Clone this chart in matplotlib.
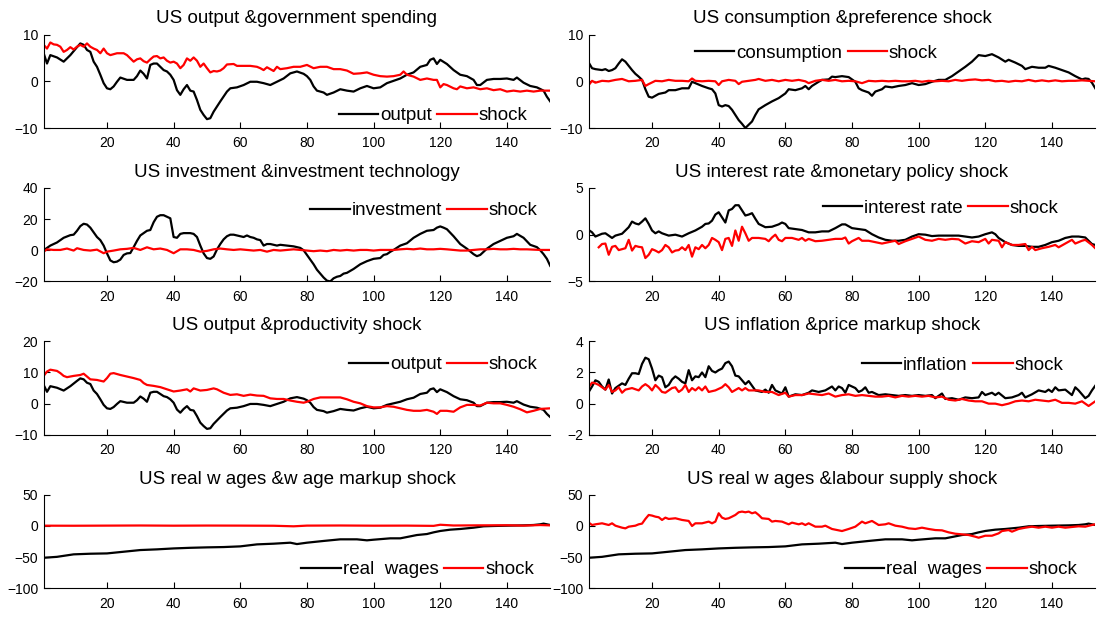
import matplotlib
matplotlib.use("Agg")
import matplotlib.pyplot as plt

plt.rcParams['font.family'] = ['Liberation Sans', 'DejaVu Sans']

# --- data (x = period index) ---
output_x = [1, 2, 3, 5, 7, 9, 11, 12, 13, 14, 15, 16, 17, 18, 19, 20, 21, 22, 23, 24,
            26, 28, 29, 30, 31, 32, 33, 34, 35, 36, 37, 38, 39, 40, 41, 42, 43, 44, 45, 46,
            47, 48, 49, 50, 51, 52, 54, 56, 57, 59, 61, 63, 65, 67, 69, 71, 73, 75, 77, 79,
            80, 81, 82, 83, 85, 86, 88, 90, 92, 94, 96, 98, 100, 102, 104, 106, 108, 110,
            112, 114, 116, 117, 118, 119, 120, 122, 124, 126, 128, 130, 131, 132, 134, 136,
            138, 140, 142, 143, 145, 147, 149, 151, 152, 153]
output_y = [6.0, 3.8, 5.6, 5.1, 4.2, 5.6, 7.3, 8.1, 7.8, 6.7, 6.3, 4.2, 3.1, 1.4, -0.4, -1.5,
            -1.7, -1.1, -0.1, 0.8, 0.3, 0.3, 1.1, 2.3, 1.6, 0.6, 3.5, 3.8, 3.8, 3.1, 2.4, 2.1,
            1.4, 0.3, -1.9, -2.9, -1.7, -0.8, -2.0, -2.2, -4.0, -6.1, -7.2, -8.1, -7.9, -6.5,
            -4.3, -2.2, -1.5, -1.3, -0.8, -0.1, -0.1, -0.4, -0.8, -0.1, 0.6, 1.7, 2.1, 1.6,
            1.1, 0.3, -1.1, -2.0, -2.4, -2.9, -2.4, -1.7, -2.0, -2.2, -1.5, -1.0, -1.5, -1.3,
            -0.4, 0.1, 0.6, 1.4, 1.9, 3.1, 3.5, 4.6, 4.9, 3.7, 4.6, 3.7, 2.4, 1.4, 1.1, 0.3,
            -0.8, -0.8, 0.3, 0.5, 0.5, 0.6, 0.3, 0.8, -0.3, -1.0, -1.3, -2.0, -3.3, -4.3]

gov_x = [1, 2, 3, 4, 5, 6, 7, 8, 9, 10, 11, 12, 13, 14, 15, 16, 17, 18, 19, 20, 21, 23, 25,
         26, 27, 28, 29, 30, 31, 32, 33, 34, 35, 36, 37, 38, 39, 40, 41, 42, 43, 44, 45, 46,
         47, 48, 49, 50, 51, 52, 53, 54, 55, 56, 58, 59, 61, 63, 65, 66, 67, 68, 69, 70, 71,
         72, 74, 76, 78, 80, 82, 84, 86, 88, 90, 92, 94, 96, 98, 100, 102, 104, 106, 108,
         109, 110, 112, 114, 116, 118, 119, 120, 121, 122, 124, 125, 126, 128, 130, 132,
         134, 136, 138, 140, 142, 144, 146, 148, 150, 153]
gov_y = [7.8, 7.0, 8.3, 7.9, 7.8, 7.4, 6.3, 6.7, 7.3, 6.8, 7.4, 7.8, 7.4, 8.1, 7.4, 7.0, 6.7,
         6.0, 7.0, 6.0, 5.6, 6.0, 6.0, 5.6, 4.9, 4.2, 4.7, 4.9, 4.3, 4.0, 4.7, 5.3, 5.4, 4.9,
         5.1, 4.4, 4.0, 4.2, 3.8, 2.8, 3.5, 4.9, 4.4, 5.1, 4.4, 3.1, 3.8, 2.8, 1.9, 2.2, 2.1,
         2.3, 2.8, 3.6, 3.7, 3.3, 3.3, 3.3, 3.1, 2.8, 2.4, 3.0, 2.6, 2.2, 3.1, 2.6, 2.8, 3.1,
         3.1, 3.5, 2.8, 3.1, 3.1, 2.6, 2.6, 2.3, 1.6, 1.7, 1.9, 1.4, 1.1, 1.0, 1.1, 1.4, 2.1,
         1.4, 1.0, 0.3, 0.6, 0.3, 0.3, -1.3, -0.6, -0.8, -1.5, -1.7, -1.1, -1.5, -1.3, -1.7,
         -1.5, -1.9, -1.7, -2.2, -2.0, -2.2, -2.0, -2.2, -2.0, -2.0]

cons_x = [1, 2, 3, 5, 6, 7, 8, 9, 10, 11, 12, 13, 14, 15, 16, 17, 18, 19, 20, 21, 22, 24, 25,
          27, 29, 31, 32, 33, 35, 37, 38, 39, 40, 41, 42, 43, 44, 45, 46, 47, 48, 49, 50, 51,
          52, 54, 56, 58, 60, 61, 63, 65, 66, 67, 68, 70, 71, 73, 74, 75, 77, 79, 80, 81, 82,
          83, 85, 86, 87, 89, 90, 92, 94, 96, 98, 100, 102, 104, 106, 108, 110, 112, 114, 116,
          118, 120, 122, 124, 126, 127, 129, 131, 132, 134, 136, 138, 139, 141, 143, 145, 147,
          149, 150, 151, 152, 153]
cons_y = [4.0, 2.8, 2.6, 2.4, 2.6, 2.2, 2.4, 2.8, 3.8, 4.7, 4.2, 3.3, 2.4, 1.6, 1.0, 0.3, -1.7,
          -3.3, -3.5, -3.1, -2.7, -2.4, -1.9, -1.9, -1.5, -1.5, -0.1, -0.4, -1.0, -1.5, -1.7,
          -2.6, -5.1, -5.4, -5.1, -5.3, -6.1, -7.2, -8.3, -9.1, -10.0, -9.3, -8.6, -7.2, -6.0,
          -5.1, -4.3, -3.6, -2.6, -1.7, -1.9, -1.5, -1.0, -1.7, -1.0, -0.1, 0.3, 0.4, 1.0, 0.9,
          1.1, 0.9, 0.4, -0.1, -1.5, -1.9, -2.4, -3.1, -2.2, -1.7, -1.1, -1.3, -1.0, -0.8, -0.4,
          -0.8, -0.6, -0.1, 0.3, 0.3, 1.1, 2.1, 3.1, 4.2, 5.6, 5.4, 5.8, 5.1, 4.2, 4.6, 4.0, 3.3,
          2.6, 3.1, 2.9, 2.9, 3.3, 2.9, 2.4, 1.9, 1.1, 0.4, 0.6, 0.5, -0.3, -1.5]

pref_x = [1, 2, 3, 5, 7, 9, 11, 13, 15, 17, 18, 19, 21, 23, 25, 27, 29, 31, 32, 33, 35, 37, 39,
          40, 41, 43, 45, 46, 47, 49, 51, 52, 54, 56, 58, 60, 62, 64, 66, 67, 69, 71, 73, 75,
          77, 79, 81, 83, 85, 87, 89, 91, 93, 95, 97, 99, 101, 103, 105, 107, 109, 111, 113,
          115, 117, 119, 121, 123, 125, 127, 129, 131, 133, 135, 137, 139, 141, 143, 145, 147,
          149, 151, 153]
pref_y = [-0.8, 0.1, -0.3, 0.1, 0.0, 0.3, 0.5, 0.0, 0.1, 0.3, -1.0, -0.6, 0.1, 0.0, 0.3, 0.1,
          0.1, 0.0, 0.6, 0.1, 0.0, 0.1, 0.0, -0.8, 0.0, 0.3, 0.1, -0.6, -0.1, 0.1, 0.3, 0.5,
          0.1, 0.3, 0.0, 0.3, 0.1, 0.3, 0.0, -0.4, 0.1, 0.3, 0.1, 0.3, 0.0, 0.1, 0.0, -0.4, 0.1,
          0.0, 0.1, 0.0, 0.1, 0.0, 0.0, 0.1, -0.1, 0.1, 0.0, 0.1, 0.0, 0.3, 0.1, 0.3, 0.4, 0.2,
          0.3, 0.0, 0.1, -0.1, 0.1, 0.0, 0.3, 0.0, 0.2, 0.0, 0.2, 0.0, 0.1, 0.1, 0.2, 0.1, 0.0]

inv_x = [1, 3, 5, 7, 9] + list(range(10, 73)) + [74, 76] + list(range(77, 93)) + \
        [94, 96, 98, 100, 102, 103, 104, 105, 106, 108, 110, 112, 114, 116, 118, 119, 120,
         121, 122, 124, 126, 128, 130, 131, 132, 134, 136, 138, 140, 142, 143, 145, 147, 149,
         150, 151, 152, 153]
inv_y = [0.0, 3.0, 5.0, 8.0, 9.7, 10.0, 12.5, 15.5, 17.0, 16.5, 14.5, 11.5, 8.5, 6.5, 3.0,
         -2.0, -6.5, -7.7, -7.3, -6.0, -3.0, -2.0, -1.8, 2.0, 6.0, 9.5, 11.0, 12.5, 13.0, 18.0,
         21.5, 22.5, 22.5, 21.5, 20.5, 8.5, 8.0, 10.5, 11.0, 11.0, 11.0, 10.5, 8.5, 3.0, -2.0,
         -5.0, -5.5, -4.0, 0.5, 4.0, 7.0, 9.0, 10.0, 10.0, 9.5, 9.0, 8.5, 9.5, 8.5, 8.0, 7.0,
         6.5, 3.0, 4.0, 4.0, 3.5, 3.0, 3.5, 3.0, 2.5, 2.0, 1.5, 0.0, -3.0, -6.0, -9.0, -12.5,
         -15.0, -17.5, -19.5, -20.0, -18.0, -17.0, -16.5, -15.0, -14.5, -12.0, -9.0, -7.0,
         -5.5, -5.0, -3.0, -2.5, -1.0, 0.2, 3.0, 4.5, 8.0, 10.5, 12.5, 13.0, 14.5, 15.3, 14.5,
         13.5, 9.0, 4.0, 1.0, -2.5, -3.8, -3.0, 1.0, 4.0, 6.0, 8.0, 9.0, 10.5, 8.0, 3.5, 2.0,
         0.0, -2.5, -5.5, -10.0]

invshock_x = [1, 2, 4, 6, 8, 10, 11, 13, 15, 17, 19, 20, 22, 24, 26, 28, 30, 32, 34, 36, 38,
              40, 42, 44, 46, 48, 50, 52, 54, 56, 58, 60, 62, 64, 66, 68, 70, 72, 74, 76, 78,
              80, 82, 84, 86, 88, 90, 92, 94, 96, 98, 100, 102, 104, 106, 108, 110, 112, 114,
              116, 118, 120, 122, 124, 126, 128, 130, 132, 134, 136, 138, 140, 142, 144, 146,
              148, 150, 153]
invshock_y = [-0.9, 0.6, 0.2, 0.2, 1.1, -0.2, 1.3, 0.2, -0.2, 0.4, -1.9, -0.9, -0.2, 0.6, 0.9,
              1.5, 0.2, 1.9, 0.6, 1.1, 0.2, -1.9, 0.6, 0.6, 0.2, -0.9, -0.4, 0.6, 1.1, 0.6, 0.2,
              0.6, 0.2, -0.2, 0.2, -0.9, 0.2, -0.2, 0.2, 0.6, 0.2, -0.2, -0.6, -0.2, -0.6, 0.2,
              -0.2, 0.2, -0.2, 0.2, 0.2, -0.2, 0.2, 0.2, 0.2, 0.6, 0.9, 0.6, 1.1, 0.6, 0.6, 0.9,
              0.6, 0.2, -0.2, -0.2, 0.2, 0.6, 0.6, 0.9, 0.6, 0.6, 0.9, 0.6, 0.6, 0.4, 0.2, 0.2]

rate_x = [1, 2, 3, 5, 6, 7, 8, 9, 11, 12, 13, 14, 15, 16, 17, 18, 19, 20, 21, 22, 23, 25, 27,
          29, 31, 33, 35, 36, 37, 38, 39, 40, 41, 42, 43, 44, 45, 46, 47, 48, 49, 50, 51, 52,
          54, 56, 58, 59, 60, 61, 63, 65, 67, 69, 71, 73, 75, 77, 78, 80, 82, 84, 86, 88, 90,
          92, 94, 96, 98, 100, 102, 104, 106, 108, 110, 112, 114, 116, 118, 120, 122, 123, 124,
          126, 128, 130, 132, 134, 136, 138, 140, 142, 144, 146, 148, 150, 151, 152, 153]
rate_y = [0.5, 0.25, -0.2, 0.1, 0.15, -0.1, -0.35, -0.1, 0.1, 0.45, 0.8, 1.4, 1.2, 1.1, 1.4,
          1.75, 1.15, 0.45, 0.15, 0.35, 0.15, -0.1, 0.0, -0.2, 0.15, 0.45, 0.85, 1.15, 1.2, 1.5,
          2.15, 2.4, 1.85, 1.3, 2.6, 2.75, 3.15, 3.15, 2.6, 2.05, 2.15, 2.3, 1.7, 1.15, 0.8,
          0.85, 1.1, 1.3, 1.15, 0.7, 0.6, 0.5, 0.25, 0.25, 0.35, 0.35, 0.7, 1.1, 1.1, 0.7, 0.6,
          0.5, 0.05, -0.3, -0.55, -0.65, -0.65, -0.55, -0.2, 0.05, 0.0, -0.15, -0.1, -0.1, -0.1,
          -0.1, -0.2, -0.3, -0.2, 0.05, 0.25, 0.05, -0.35, -0.8, -1.1, -1.2, -1.2, -1.3, -1.3,
          -1.1, -0.8, -0.65, -0.35, -0.2, -0.2, -0.3, -0.65, -1.0, -1.1]

mp_x = list(range(4, 51)) + [52, 54, 55, 56, 57, 58, 59, 60, 62, 64, 65, 66, 67, 69, 71, 73,
                             75, 77, 78, 79, 80, 82, 83, 85, 87, 89, 91, 93, 94, 96, 98, 100,
                             102, 104, 106, 108, 110, 112, 114, 116, 118, 120, 121, 122, 124,
                             125, 126, 128, 130, 132, 133, 134, 135, 137, 139, 141, 142, 144,
                             146, 147, 149, 150, 152, 153]
mp_y = [-1.35, -1.0, -0.95, -2.15, -1.3, -1.2, -1.65, -1.55, -1.45, -0.55, -1.7, -1.2, -1.3,
        -1.35, -2.5, -2.15, -1.55, -1.7, -1.9, -1.65, -1.1, -1.35, -1.9, -1.7, -1.65, -1.35,
        -1.65, -1.1, -2.35, -1.35, -1.55, -1.1, -1.45, -1.1, -0.35, -0.55, -0.8, -1.65, -0.45,
        -0.35, -1.2, 0.45, -0.65, 0.85, 0.15, -0.65, -0.35,
        -0.35, -0.45, -0.7, -0.3, 0.0, -0.55, -0.7, -0.35, -0.35, -0.55, -0.35, -0.65, -0.45,
        -0.7, -0.65, -0.55, -0.45, -0.45, -0.3, -0.95, -0.7, -0.35, -0.65, -0.65, -0.8, -0.95,
        -0.8, -0.65, -1.0, -0.7, -0.45, -0.2, -0.55, -0.65, -0.45, -0.55, -0.45, -0.5, -0.95,
        -0.7, -0.8, -0.45, -0.95, -0.55, -0.65, -1.35, -0.8, -1.1, -1.1, -1.0, -1.65, -1.3,
        -1.65, -1.45, -1.3, -1.1, -1.35, -0.95, -0.55, -0.95, -0.65, -0.55, -1.1, -1.45]

prod_x = [1, 2, 3, 5, 6, 7, 8, 10, 12, 13, 14, 15, 17, 19, 20, 21, 22, 24, 26, 28, 30, 31, 32,
          34, 36, 38, 40, 42, 44, 45, 46, 48, 50, 52, 53, 55, 57, 59, 61, 63, 65, 67, 69, 71,
          73, 75, 77, 79, 80, 82, 84, 86, 88, 90, 92, 94, 96, 98, 100, 102, 104, 106, 108, 110,
          112, 114, 116, 118, 119, 120, 122, 124, 126, 128, 130, 132, 134, 136, 138, 140, 142,
          144, 146, 148, 150, 153]
prod_y = [8.9, 10.3, 10.9, 10.5, 9.8, 8.9, 8.5, 8.9, 9.2, 9.6, 8.7, 7.8, 7.6, 7.1, 8.2, 9.6,
          9.8, 9.2, 8.7, 8.2, 7.6, 6.6, 6.0, 5.7, 5.3, 4.6, 3.9, 4.2, 4.6, 3.9, 4.9, 4.2, 4.4,
          4.9, 4.6, 3.5, 2.8, 3.0, 2.5, 2.9, 2.6, 2.5, 1.7, 1.5, 1.5, 1.0, 0.6, 0.3, 0.6, 1.5,
          2.0, 2.0, 2.0, 2.0, 1.4, 0.6, 0.1, -0.8, -1.2, -1.2, -0.8, -1.0, -1.5, -2.0, -2.3,
          -2.3, -2.0, -2.6, -3.3, -2.3, -2.3, -2.6, -1.2, -0.4, -0.4, -0.6, 0.3, 0.1, 0.1, -0.4,
          -1.0, -1.8, -2.8, -2.3, -1.7, -1.5]

infl_x = list(range(1, 52)) + [53, 54, 55, 56, 57, 58, 59, 60, 61, 63, 65, 67, 68, 70, 72, 74,
                               75, 76, 77, 78, 79, 80, 81, 82, 83, 84, 85, 86, 88, 90, 92, 94,
                               96, 98, 100, 102, 104, 105, 107, 108, 110, 112, 114, 116, 118,
                               119, 120, 122, 123, 124, 126, 128, 130, 131, 132, 134, 136,
                               138, 139, 140, 141, 142, 144, 146, 147, 148, 150, 151, 152, 153]
infl_y = [0.75, 1.1, 1.5, 1.4, 1.1, 0.9, 1.55, 0.65, 1.0, 1.15, 1.3, 1.2, 1.6, 1.95, 1.95, 1.9,
          2.55, 2.95, 2.85, 2.25, 1.5, 1.8, 1.7, 1.05, 1.2, 1.55, 1.75, 1.6, 1.4, 1.3, 2.15, 1.5,
          1.75, 1.7, 2.0, 1.7, 2.4, 2.1, 2.0, 2.15, 2.25, 2.6, 2.7, 2.4, 1.8, 1.75, 1.5, 1.25,
          1.45, 1.15, 0.85,
          0.75, 0.9, 0.7, 1.2, 0.85, 0.75, 0.65, 1.05, 0.45, 0.6, 0.55, 0.7, 0.85, 0.75, 0.85,
          1.1, 0.85, 1.1, 1.0, 0.7, 1.2, 1.1, 1.0, 0.75, 0.85, 1.05, 0.7, 0.75, 0.55, 0.6, 0.55,
          0.5, 0.55, 0.5, 0.55, 0.5, 0.55, 0.35, 0.65, 0.3, 0.35, 0.25, 0.4, 0.35, 0.4, 0.75,
          0.55, 0.7, 0.55, 0.7, 0.35, 0.4, 0.55, 0.7, 0.4, 0.6, 0.85, 0.75, 0.9, 0.75, 1.05,
          0.85, 0.9, 0.55, 1.05, 0.85, 0.35, 0.5, 0.85, 1.15]

price_x = [1, 2, 3, 4, 5, 6, 7, 8, 9, 10, 11, 12, 14, 16, 17, 18, 19, 20, 21, 22, 23, 24, 26,
           27, 28, 29, 30, 31, 32, 33, 34, 35, 36, 37, 39, 41, 42, 43, 44, 46, 47, 48, 49, 50,
           52, 54, 56, 58, 60, 61, 63, 65, 67, 69, 71, 73, 75, 77, 79, 81, 83, 85, 87, 89, 91,
           93, 95, 97, 99, 101, 103, 105, 107, 109, 111, 113, 115, 117, 119, 121, 123, 125, 127,
           129, 131, 133, 135, 137, 139, 141, 143, 145, 147, 149, 151, 153]
price_y = [1.05, 1.35, 1.3, 1.2, 1.05, 0.9, 1.2, 0.75, 0.85, 1.05, 0.7, 0.9, 1.0, 0.85, 1.1,
           1.25, 1.1, 0.85, 1.2, 1.0, 0.75, 0.7, 1.0, 1.05, 0.75, 0.9, 1.2, 0.75, 1.0, 0.85,
           1.05, 0.85, 1.1, 0.75, 0.85, 1.05, 1.25, 1.05, 0.75, 1.0, 0.85, 1.0, 0.85, 0.85,
           0.85, 0.75, 0.75, 0.55, 0.7, 0.45, 0.55, 0.55, 0.65, 0.6, 0.55, 0.65, 0.45, 0.55,
           0.6, 0.5, 0.55, 0.5, 0.45, 0.45, 0.5, 0.4, 0.5, 0.45, 0.5, 0.45, 0.5, 0.4, 0.45,
           0.25, 0.2, 0.3, 0.2, 0.15, 0.15, 0.0, 0.0, -0.1, 0.0, 0.15, 0.2, 0.15, 0.25, 0.2,
           0.15, 0.25, 0.05, 0.05, 0.0, 0.15, -0.15, 0.15]

wages_x = [1, 5, 10, 15, 20, 25, 30, 35, 40, 45, 50, 55, 60, 65, 70, 75, 77, 80, 85, 90, 95,
           98, 100, 105, 108, 110, 113, 116, 118, 120, 123, 126, 130, 133, 136, 140, 145, 148,
           150, 151, 153]
wages_y = [-51, -49.5, -45.5, -44.5, -44, -41.3, -38.6, -37.5, -36, -35, -34.3, -33.8, -32.7,
           -29.5, -28.4, -26.8, -29, -26.8, -24, -21.4, -21.4, -23, -22, -19.8, -19.8, -17.7,
           -14.5, -12.9, -10.2, -8, -5.9, -4.8, -2.7, -0.5, 0, 0.5, 1, 1.6, 2.7, 3.8, 1.6]

wmark_x = [1, 10, 20, 30, 40, 50, 60, 70, 76, 80, 90, 100, 110, 118, 120, 124, 130, 140, 145,
           150, 153]
wmark_y = [0.5, 0.4, 0.6, 0.8, 0.5, 0.7, 0.6, 0.4, -0.5, 0.6, 0.8, 0.5, 0.6, 0.2, 2.0, 0.8,
           1.0, 1.2, 0.6, 1.5, 1.0]

labour_x = [1, 2, 3, 5, 7, 8, 9, 11, 12, 13, 15, 16, 17, 18, 19, 20, 21, 22, 23, 24, 25, 27,
            29, 31, 32, 33, 35, 37, 38, 39, 40, 41, 42, 43, 44, 45, 46, 47, 48, 49, 50, 51, 52,
            53, 55, 56, 57, 59, 61, 62, 64, 65, 66, 67, 69, 71, 72, 74, 76, 77, 79, 81, 83, 84,
            86, 88, 90, 91, 93, 95, 97, 99, 101, 103, 105, 107, 109, 111, 113, 115, 117, 118,
            120, 122, 124, 125, 127, 128, 130, 132, 134, 136, 138, 140, 142, 144, 146, 148, 150,
            152, 153]
labour_y = [5.4, 1.6, 2.7, 4.3, 1.6, 4.3, 0.5, -2.7, -3.8, -1.1, 0.5, 2.7, 3.8, 11.3, 17.7,
            16.7, 15, 14, 9.7, 13.4, 11.3, 12.4, 9.7, 8.1, 0, 4.3, 4.3, 7, 4.3, 7, 20.4, 13.4,
            11.3, 12.4, 15, 17.7, 22, 23.1, 22, 23.1, 20.4, 22, 17.7, 12.4, 11.3, 7, 8.1, 7, 2.7,
            5.4, 2.7, 4.3, 1.6, 4.3, -1.1, -1.1, 0.5, -4.8, -7, -8.1, -4.8, -1.1, 7, 4.3, 8.1,
            1.6, 2.7, 4.3, 0.5, -1.1, -3.8, -4.8, -2.7, -4.8, -6.5, -7, -10.2, -12.4, -13.4,
            -14.5, -17.2, -18.8, -15.6, -15.6, -11.8, -8.1, -6.5, -9.1, -4.8, -2.7, -1.1, -2.7,
            -1.1, -2.7, -1.1, -2.7, -1.6, -0.5, -1.1, 1.6, 2.7]

titles = ["US output &government spending", "US consumption &preference shock",
          "US investment &investment technology", "US interest rate &monetary policy shock",
          "US output &productivity shock", "US inflation &price markup shock",
          "US real w ages &w age markup shock", "US real w ages &labour supply shock"]
var_names = ["output", "consumption", "investment", "interest rate",
             "output", "inflation", "real  wages", "real  wages"]
xticks = [20, 40, 60, 80, 100, 120, 140]

# panel setup: (black series, red series, ylim, yticks, legend loc, legend anchor)
panels = [
    ((output_x, output_y), (gov_x, gov_y), (-10, 10), [-10, 0, 10], 'center right', (0.955, 0.13)),
    ((cons_x, cons_y), (pref_x, pref_y), (-10, 10), [-10, 0, 10], 'center', (0.449, 0.80)),
    ((inv_x, inv_y), (invshock_x, invshock_y), (-20, 40), [-20, 0, 20, 40], 'center right', (0.975, 0.757)),
    ((rate_x, rate_y), (mp_x, mp_y), (-5, 5), [-5, 0, 5], 'center right', (0.927, 0.786)),
    ((output_x, output_y), (prod_x, prod_y), (-10, 20), [-10, 0, 10, 20], 'center right', (0.975, 0.75)),
    ((infl_x, infl_y), (price_x, price_y), (-2, 4), [-2, 0, 2, 4], 'center right', (0.937, 0.745)),
    ((wages_x, wages_y), (wmark_x, wmark_y), (-100, 50), [-100, -50, 0, 50], 'center right', (0.968, 0.197)),
    ((wages_x, wages_y), (labour_x, labour_y), (-100, 50), [-100, -50, 0, 50], 'center right', (0.965, 0.197)),
]

fig = plt.figure(figsize=(11, 6.17), dpi=100)
lefts = [0.0397, 0.5352]
bottoms = [0.7925, 0.5439, 0.2953, 0.0465]
w, h = 0.4605, 0.1515

for i, (blk, red, ylim, yt, loc, anchor) in enumerate(panels):
    ax = fig.add_axes([lefts[i % 2], bottoms[i // 2], w, h])
    ax.plot(blk[0], blk[1], color='black', lw=1.6, label=var_names[i])
    ax.plot(red[0], red[1], color='red', lw=1.6, label='shock')
    ax.set_xlim(1, 153)
    ax.set_ylim(*ylim)
    ax.set_xticks(xticks)
    ax.set_yticks(yt)
    ax.spines['top'].set_visible(False)
    ax.spines['right'].set_visible(False)
    ax.tick_params(direction='in', length=4, labelsize=10, width=0.8)
    ax.tick_params(axis='y', pad=4)
    ax.tick_params(axis='x', pad=6)
    ax.set_title(titles[i], fontsize=13.5, pad=8)
    ax.legend(loc=loc, bbox_to_anchor=anchor, ncol=2, frameon=False, fontsize=13.5,
              handlelength=2.1, handletextpad=0.1, columnspacing=0.3, borderpad=0,
              borderaxespad=0)

fig.savefig("out.png", dpi=100)
